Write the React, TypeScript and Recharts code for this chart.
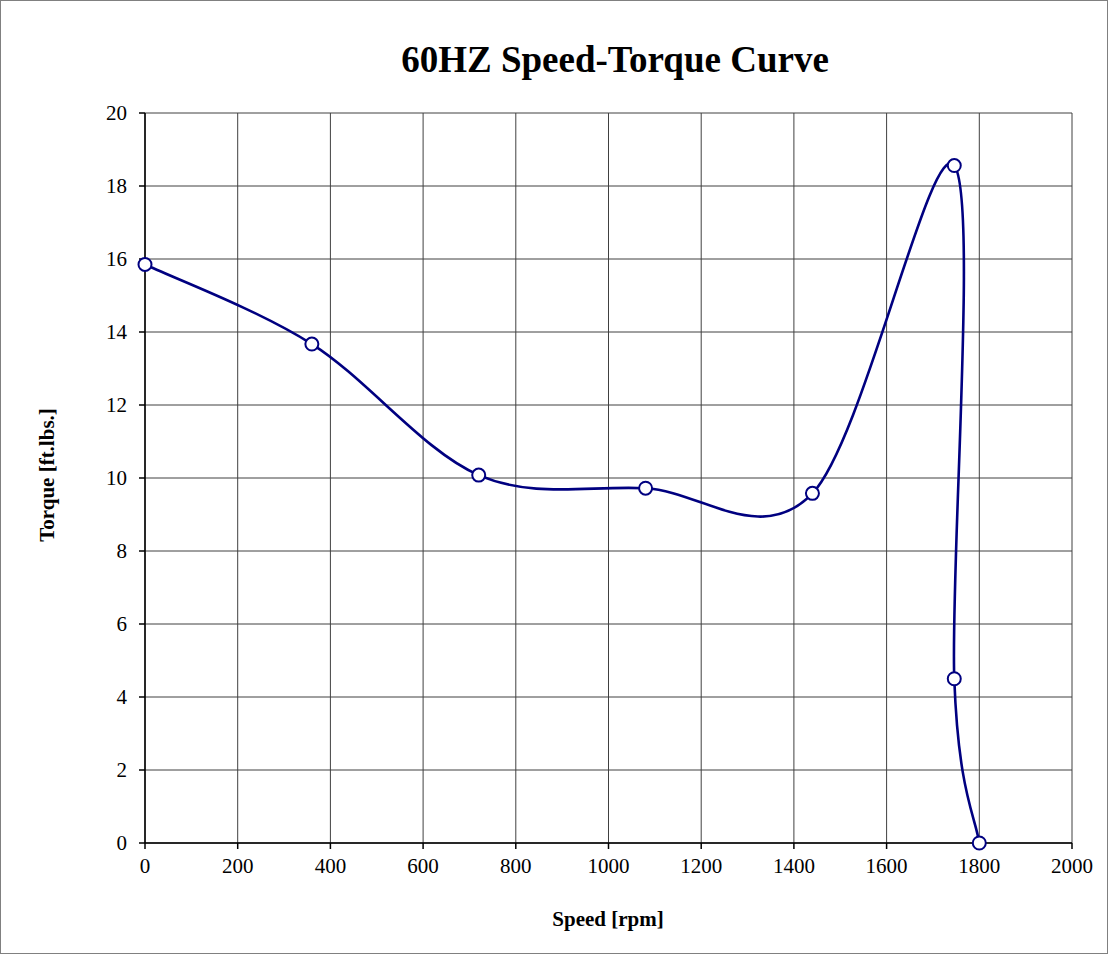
import React from "react";
import { LineChart, Line, XAxis, YAxis, CartesianGrid } from "recharts";

const speeds = [0, 360, 720, 1080, 1440, 1746, 1746, 1800];
const torques = [15.85, 13.67, 10.08, 9.72, 9.58, 18.56, 4.5, 0];
const xTicks = [0, 200, 400, 600, 800, 1000, 1200, 1400, 1600, 1800, 2000];
const yTicks = [0, 2, 4, 6, 8, 10, 12, 14, 16, 18, 20];

const data = speeds.map((s, i) => ({ speed: s, torque: torques[i] }));

// Excel-like smoothed line (Catmull-Rom as cubic Bezier)
function excelSmooth(context: any) {
  let pts: number[][] = [];
  return {
    areaStart() {},
    areaEnd() {},
    lineStart() {
      pts = [];
    },
    point(x: number, y: number) {
      pts.push([+x, +y]);
    },
    lineEnd() {
      const n = pts.length;
      if (!n) return;
      context.moveTo(pts[0][0], pts[0][1]);
      for (let i = 0; i < n - 1; i++) {
        const p0 = pts[Math.max(i - 1, 0)];
        const p1 = pts[i];
        const p2 = pts[i + 1];
        const p3 = pts[Math.min(i + 2, n - 1)];
        const c1x = p1[0] + (p2[0] - p0[0]) / 6;
        const c1y = p1[1] + (p2[1] - p0[1]) / 6;
        const c2x = p2[0] - (p3[0] - p1[0]) / 6;
        const c2y = p2[1] - (p3[1] - p1[1]) / 6;
        context.bezierCurveTo(c1x, c1y, c2x, c2y, p2[0], p2[1]);
      }
    },
  };
}

const FONT = "'Liberation Serif', 'Times New Roman', serif";

export default function App() {
  return (
    <div
      style={{
        position: "absolute",
        left: 0,
        top: 0,
        width: 1108,
        height: 954,
        background: "#fff",
        fontFamily: FONT,
      }}
    >
      <LineChart
        width={1108}
        height={954}
        data={data}
        margin={{ top: 113, right: 36, bottom: 0, left: 0 }}
      >
        <CartesianGrid
          stroke="#404040"
          strokeWidth={1}
          horizontalValues={yTicks}
          verticalValues={xTicks}
        />
        <XAxis
          dataKey="speed"
          type="number"
          domain={[0, 2000]}
          ticks={xTicks}
          height={111}
          tickSize={6}
          tickMargin={9}
          stroke="#000"
          strokeWidth={1.5}
          tick={{ fill: "#000", fontSize: 21, fontFamily: FONT }}
          interval={0}
        />
        <YAxis
          type="number"
          domain={[0, 20]}
          ticks={yTicks}
          width={145}
          tickSize={6}
          tickMargin={12}
          stroke="#000"
          strokeWidth={1.5}
          tick={{ fill: "#000", fontSize: 21, fontFamily: FONT }}
          interval={0}
        />
        <Line
          dataKey="torque"
          type={excelSmooth as any}
          stroke="#000080"
          strokeWidth={2.6}
          dot={{ r: 6.5, fill: "#fff", stroke: "#000080", strokeWidth: 2 }}
          isAnimationActive={false}
        />
      </LineChart>
      <div
        style={{
          position: "absolute",
          left: 0,
          width: 1230,
          top: 40,
          textAlign: "center",
          fontSize: 37,
          fontWeight: "bold",
          lineHeight: "40px",
          color: "#000",
          whiteSpace: "nowrap",
        }}
      >
        60HZ Speed-Torque Curve
      </div>
      <div
        style={{
          position: "absolute",
          left: 0,
          width: 1216,
          top: 906,
          textAlign: "center",
          fontSize: 21,
          fontWeight: "bold",
          lineHeight: "26px",
          color: "#000",
          whiteSpace: "nowrap",
        }}
      >
        Speed [rpm]
      </div>
      <div
        style={{
          position: "absolute",
          left: 47,
          top: 475,
          transform: "translate(-50%, -50%) rotate(-90deg)",
          fontSize: 21,
          fontWeight: "bold",
          lineHeight: "26px",
          color: "#000",
          whiteSpace: "nowrap",
        }}
      >
        Torque [ft.lbs.]
      </div>
      <div
        style={{
          position: "absolute",
          left: 0,
          top: 0,
          width: 1108,
          height: 954,
          boxSizing: "border-box",
          border: "1px solid #808080",
          pointerEvents: "none",
        }}
      />
    </div>
  );
}
